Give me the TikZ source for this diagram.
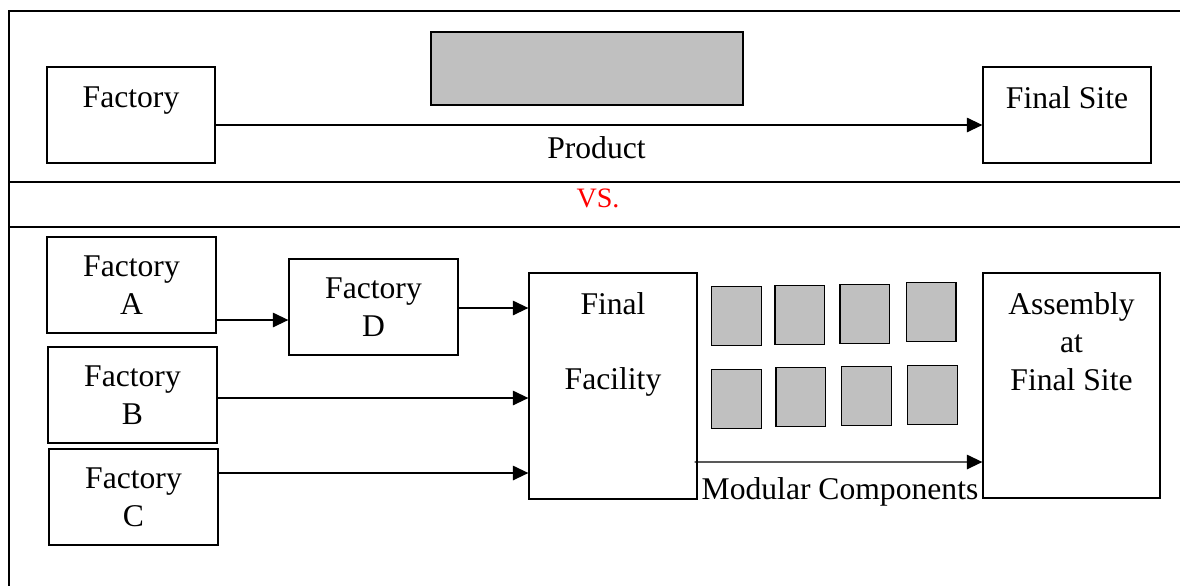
\documentclass[tikz,border=0pt]{standalone}
\usepackage{fontspec}
\setmainfont{Liberation Serif}
\definecolor{PartGray}{RGB}{192,192,192}
\definecolor{VsRed}{RGB}{255,0,0}
\usetikzlibrary{positioning, arrows.meta, calc}

\begin{document}
\begin{tikzpicture}[x=0.02cm, y=-0.02cm, font=\fontsize{18}{21.6}\selectfont,
    box/.style={draw, line width=0.75pt, inner sep=0pt, align=center},
    part/.style={box, fill=PartGray, minimum width=0.99cm, minimum height=1.18cm},
    flow/.style={-{Triangle[length=0.31cm, width=0.29cm]}, line width=0.75pt},
    toptext/.style={inner sep=0pt, align=center},
    frame/.style={line width=1pt}]
          \useasboundingbox (0,0) rectangle (1180,586);
          % frame and bands
          \draw[frame] (1180,11) -- (8.7,11) -- (8.7,586);
          \draw[frame] (8.7,182) -- (1180,182);
          \draw[frame] (8.7,227) -- (1180,227);
          % one product shipped whole
          \node[box, minimum width=3.36cm, minimum height=1.92cm] (fac) at (131,115) {};
          \node[toptext, below=0.4cm of fac.north] (facText) {Factory};
          \node[box, fill=PartGray, minimum width=6.24cm, minimum height=1.46cm] (product) at (587,68.5) {};
          \node[box, minimum width=3.36cm, minimum height=1.92cm] (site) at (1067,115) {};
          \node[toptext, below=0.4cm of site.north] (siteText) {Final Site};
          \draw[flow] ($(fac.east)+(0,10)$) -- ($(site.west)+(0,10)$);
          \node[anchor=base] (productText) at (596.5,158) {Product};
          \node[anchor=base, text=VsRed, font=\fontsize{16}{19}\selectfont] (vs) at (598,207) {VS.};
          % modular route
          \node[box, minimum width=3.38cm, minimum height=1.92cm] (facA) at (131.5,285) {Factory\\A};
          \node[box, minimum width=3.38cm, minimum height=1.92cm] (facB) at (132.5,395) {Factory\\B};
          \node[box, minimum width=3.38cm, minimum height=1.92cm] (facC) at (133.5,497) {Factory\\C};
          \node[box, minimum width=3.38cm, minimum height=1.92cm] (facD) at (373.5,307) {Factory\\D};
          \node[box, minimum width=3.36cm, minimum height=4.52cm] (facility) at (613,386) {};
          \node[toptext, below=0.39cm of facility.north] (facilityText) {Final\\[0.74cm]Facility};
          \node[box, minimum width=3.54cm, minimum height=4.5cm] (assembly) at (1071.5,385.5) {};
          \node[toptext, below=0.39cm of assembly.north] (assemblyText) {Assembly\\at\\Final Site};
          \draw[flow] ($(facA.east)+(0,35)$) -- ($(facD.west)+(0,13)$);
          \draw[flow] ($(facD.east)+(0,1)$) -- ($(facility.west)+(0,-78)$);
          \draw[flow] ($(facB.east)+(0,3)$) -- ($(facility.west)+(0,12)$);
          \draw[flow] ($(facC.east)+(0,-24)$) -- ($(facility.west)+(0,87)$);
          \node[part] (partA1) at (736.5,316) {};
          \node[part] (partA2) at (799.7,314.7) {};
          \node[part] (partA3) at (864.8,313.8) {};
          \node[part] (partA4) at (931.3,312.3) {};
          \node[part] (partB1) at (736.5,398.7) {};
          \node[part] (partB2) at (800.8,397) {};
          \node[part] (partB3) at (866.5,396.3) {};
          \node[part] (partB4) at (932.5,394.7) {};
          \draw[flow] ($(facility.east)+(-3,76)$) -- ($(assembly.west)+(0,76.5)$);
          \node[anchor=base] (modularText) at (840,499) {Modular Components};
        \end{tikzpicture}
\end{document}
